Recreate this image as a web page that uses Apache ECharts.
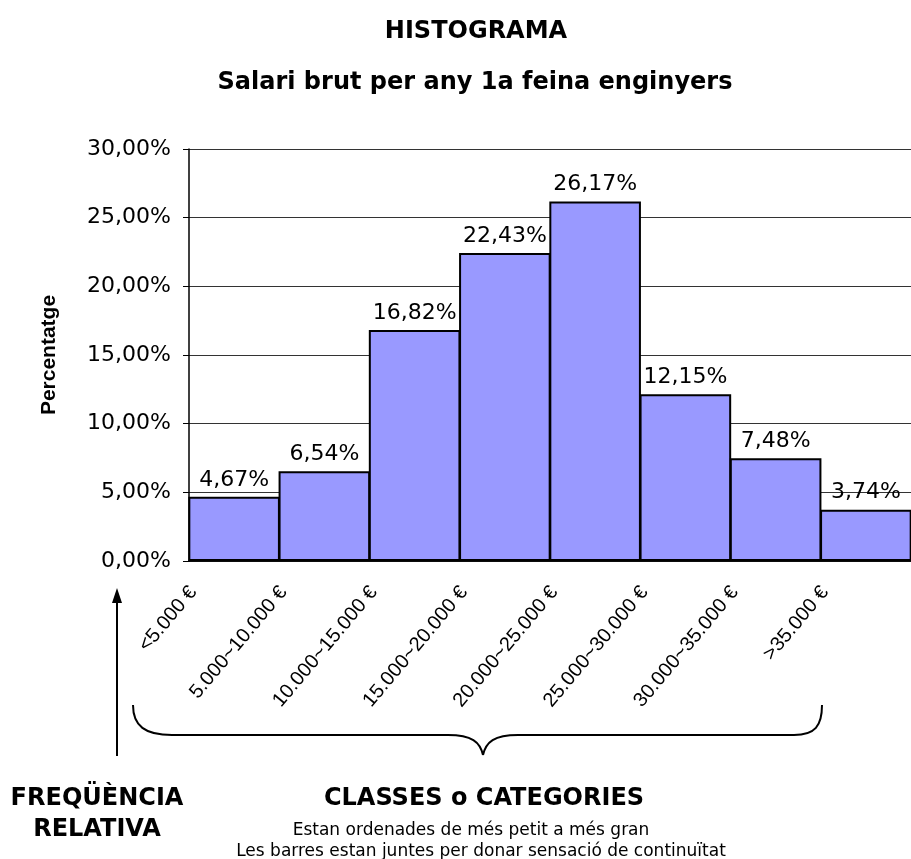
<!DOCTYPE html>
<html>
<head>
<meta charset="utf-8">
<title>Histograma</title>
<script src="https://cdn.jsdelivr.net/npm/echarts@6/dist/echarts.min.js"></script>
<style>
  html, body { margin: 0; padding: 0; background: #fff; }
  #chart { width: 911px; height: 859px; }
</style>
</head>
<body>
<div id="chart"></div>
<script>
// categories (salary classes)
const classes = ['<5.000 €', '5.000~10.000 €', '10.000~15.000 €', '15.000~20.000 €',
  '20.000~25.000 €', '25.000~30.000 €', '30.000~35.000 €', '>35.000 €'];
// relative frequency (%)
const percentatge = [4.67, 6.54, 16.82, 22.43, 26.17, 12.15, 7.48, 3.74];

const yMin = 0;
const yMax = 30;
const yStep = 5;

const fmt = v => v.toFixed(2).replace('.', ',') + '%';
const numFont = 'DejaVu Sans';

const myChart = echarts.init(document.getElementById('chart'));

const braceStyle = { fill: 'none', stroke: '#000', lineWidth: 2 };

function caption(text, x, y, size, bold) {
  return {
    text: text, left: x, top: y, textAlign: 'center', padding: 0,
    textStyle: { fontFamily: 'DejaVu Sans', fontWeight: bold ? 'bold' : 'normal', fontSize: size, color: '#000' }
  };
}

const option = {
  backgroundColor: '#fff',
  animation: false,
  title: [
    caption('HISTOGRAMA', 476, 20, 24, true),
    caption('Salari brut per any 1a feina enginyers', 475, 71, 24, true),
    caption('FREQÜÈNCIA', 97, 787, 24, true),
    caption('RELATIVA', 97, 818, 24, true),
    caption('CLASSES o CATEGORIES', 484, 787, 24, true),
    caption('Estan ordenades de més petit a més gran', 471, 822, 17, false),
    caption('Les barres estan juntes per donar sensació de continuïtat', 481, 843, 17, false)
  ],
  grid: [
    // bars
    { left: 189, right: 0, top: 149, bottom: 298, containLabel: false, outerBoundsMode: 'none' },
    // category labels (Excel puts them offset to the left of the bars)
    { left: 148, right: 41, top: 149, bottom: 298, containLabel: false, outerBoundsMode: 'none' }
  ],
  xAxis: [
    {
      type: 'category',
      gridIndex: 0,
      data: classes,
      axisLine: { show: true, lineStyle: { color: '#000', width: 1.5 } },
      axisTick: { show: false },
      axisLabel: { show: false },
      splitLine: { show: false }
    },
    {
      type: 'category',
      gridIndex: 1,
      data: classes,
      axisLine: { show: false },
      axisTick: { show: false },
      splitLine: { show: false },
      axisLabel: {
        interval: 0,
        rotate: 50,
        margin: 28,
        fontFamily: 'Liberation Sans',
        fontSize: 20,
        color: '#000'
      }
    }
  ],
  yAxis: [
    {
      type: 'value',
      gridIndex: 0,
      min: yMin,
      max: yMax,
      interval: yStep,
      name: 'Percentatge',
      nameLocation: 'middle',
      nameRotate: 90,
      nameGap: 129,
      nameTextStyle: { fontFamily: 'Liberation Sans', fontWeight: 'bold', fontSize: 21, color: '#000' },
      axisLine: { show: true, lineStyle: { color: '#000', width: 1.5 } },
      axisTick: { show: true, inside: false, length: 6, lineStyle: { color: '#000' } },
      axisLabel: {
        margin: 18,
        fontFamily: numFont,
        fontSize: 22,
        color: '#000',
        formatter: v => fmt(v)
      },
      splitLine: { show: true, lineStyle: { color: '#333', width: 1 } }
    },
    {
      type: 'value',
      gridIndex: 1,
      min: yMin,
      max: yMax,
      show: false
    }
  ],
  series: [
    {
      type: 'bar',
      xAxisIndex: 0,
      yAxisIndex: 0,
      data: percentatge,
      barWidth: '101.5%',
      barCategoryGap: 0,
      itemStyle: { color: '#9999FF', borderColor: '#000', borderWidth: 2 },
      label: {
        show: true,
        position: 'top',
        distance: 6,
        fontFamily: numFont,
        fontSize: 22,
        color: '#000',
        formatter: p => fmt(p.value)
      }
    }
  ],
  graphic: [
    // arrow pointing to the frequency axis
    { type: 'line', shape: { x1: 117, y1: 756, x2: 117, y2: 600 }, style: { stroke: '#000', lineWidth: 2 } },
    { type: 'polygon', shape: { points: [[117, 588], [112, 603], [122, 603]] }, style: { fill: '#000' } },
    // curly brace below the classes
    { type: 'bezierCurve', shape: { x1: 133, y1: 705, cpx1: 133, cpy1: 726, cpx2: 145, cpy2: 735, x2: 172, y2: 735 }, style: braceStyle },
    { type: 'line', shape: { x1: 172, y1: 735, x2: 448, y2: 735 }, style: braceStyle },
    { type: 'bezierCurve', shape: { x1: 448, y1: 735, cpx1: 472, cpy1: 735, cpx2: 480, cpy2: 742, x2: 483, y2: 755 }, style: braceStyle },
    { type: 'bezierCurve', shape: { x1: 483, y1: 755, cpx1: 486, cpy1: 742, cpx2: 494, cpy2: 735, x2: 518, y2: 735 }, style: braceStyle },
    { type: 'line', shape: { x1: 518, y1: 735, x2: 794, y2: 735 }, style: braceStyle },
    { type: 'bezierCurve', shape: { x1: 794, y1: 735, cpx1: 815, cpy1: 735, cpx2: 822, cpy2: 726, x2: 822, y2: 705 }, style: braceStyle }
  ]
};

myChart.setOption(option);
</script>
</body>
</html>
